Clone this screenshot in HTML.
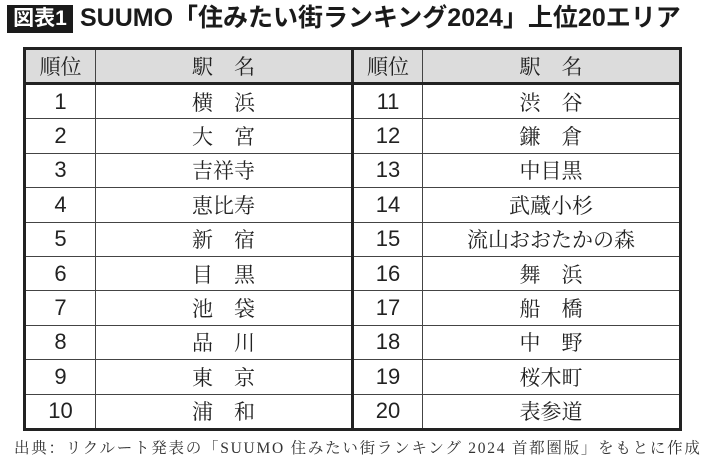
<!DOCTYPE html>
<html><head><meta charset="utf-8"><style>
body{margin:0;width:710px;height:467px;background:#fff;position:relative;overflow:hidden;font-family:"Liberation Sans","Noto Sans CJK JP",sans-serif;color:#222}
.lab{position:absolute;left:7px;top:5px;width:66px;height:28px;background:#1a1a1a;color:#fff;font-size:21px;font-weight:bold;line-height:28px;text-align:center}
.ttl{position:absolute;left:80px;top:2px;font-size:25px;font-weight:bold;line-height:32px;white-space:nowrap;color:#1a1a1a}
table{position:absolute;left:23px;top:47px;border-collapse:collapse;border:3px solid #222}
td{border:1px solid #444;height:33.4px;padding:0;text-align:center;font-size:21px;font-family:"Liberation Sans","Noto Serif CJK SC",serif;}
td.n{font-family:"Liberation Sans",sans-serif;font-size:22px}
tr.h td{background:#dcdcdc;height:32px;border-bottom:3px solid #222;font-family:"Noto Serif CJK SC",serif}
.mid{border-right:3px solid #222}
.foot{position:absolute;left:14px;top:436px;font-size:15.5px;letter-spacing:1.75px;font-family:"Liberation Serif","Noto Serif CJK SC",serif;white-space:nowrap;color:#333}
</style></head><body>
<div class="lab">図表1</div>
<div class="ttl">SUUMO「住みたい街ランキング2024」上位20エリア</div>
<table>
<colgroup><col style="width:71px"><col style="width:257px"><col style="width:70px"><col style="width:258px"></colgroup>
<tr class="h"><td>順位</td><td class="mid">駅　名</td><td>順位</td><td>駅　名</td></tr>
<tr><td class="n">1</td><td class="mid">横　浜</td><td class="n">11</td><td>渋　谷</td></tr>
<tr><td class="n">2</td><td class="mid">大　宮</td><td class="n">12</td><td>鎌　倉</td></tr>
<tr><td class="n">3</td><td class="mid">吉祥寺</td><td class="n">13</td><td>中目黒</td></tr>
<tr><td class="n">4</td><td class="mid">恵比寿</td><td class="n">14</td><td>武蔵小杉</td></tr>
<tr><td class="n">5</td><td class="mid">新　宿</td><td class="n">15</td><td>流山おおたかの森</td></tr>
<tr><td class="n">6</td><td class="mid">目　黒</td><td class="n">16</td><td>舞　浜</td></tr>
<tr><td class="n">7</td><td class="mid">池　袋</td><td class="n">17</td><td>船　橋</td></tr>
<tr><td class="n">8</td><td class="mid">品　川</td><td class="n">18</td><td>中　野</td></tr>
<tr><td class="n">9</td><td class="mid">東　京</td><td class="n">19</td><td>桜木町</td></tr>
<tr><td class="n">10</td><td class="mid">浦　和</td><td class="n">20</td><td>表参道</td></tr>
</table>
<div class="foot">出典：リクルート発表の「SUUMO 住みたい街ランキング 2024 首都圏版」をもとに作成</div>
</body></html>
